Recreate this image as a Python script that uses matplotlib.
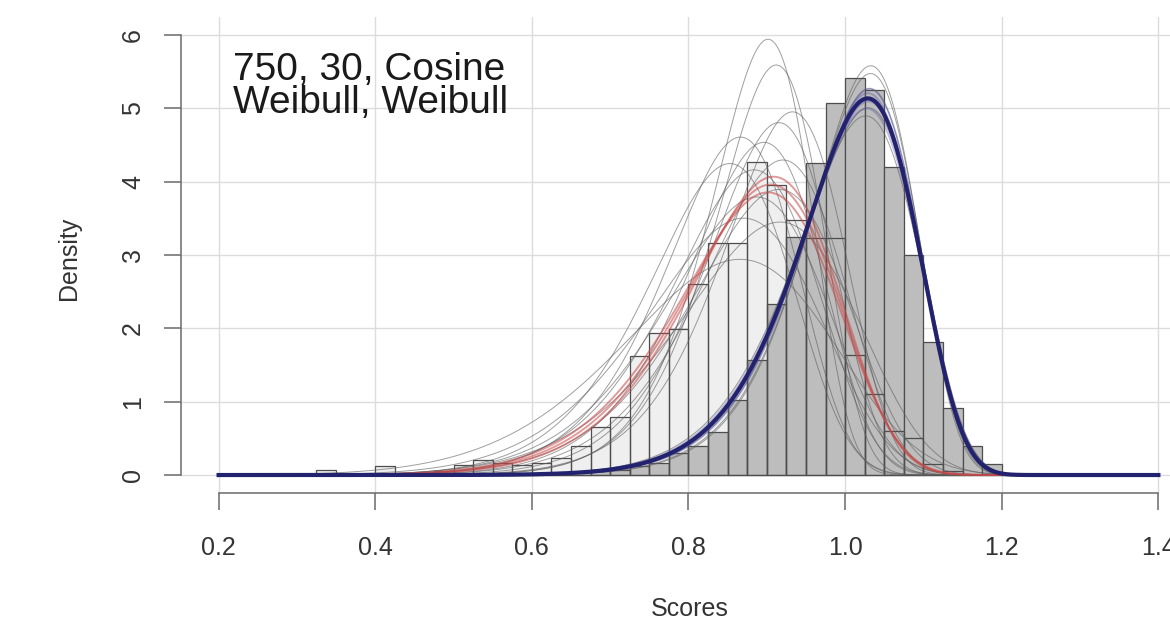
import numpy as np
import matplotlib
matplotlib.use("Agg")
import matplotlib.pyplot as plt

plt.rcParams["font.family"] = ["Liberation Sans", "DejaVu Sans"]

# ---------------- data ----------------
bin_start = 0.3
bin_width = 0.025
# light histogram (first sample)
light_heights = [0.0, 0.07, 0.0, 0.0, 0.12, 0.0, 0.02, 0.05, 0.13, 0.21,
                 0.16, 0.14, 0.16, 0.23, 0.39, 0.65, 0.79, 1.62, 1.94, 1.99,
                 2.61, 3.16, 3.16, 4.27, 3.95, 3.48, 3.23, 3.23, 1.64, 1.10,
                 0.60, 0.50, 0.15, 0.05, 0.0, 0.0, 0.0]
# dark histogram (second sample)
dark_heights = [0.0, 0.0, 0.0, 0.0, 0.0, 0.0, 0.0, 0.0, 0.0, 0.0,
                0.0, 0.0, 0.03, 0.03, 0.04, 0.05, 0.07, 0.12, 0.16, 0.30,
                0.39, 0.59, 1.02, 1.57, 2.33, 3.25, 4.25, 5.07, 5.41, 5.25,
                4.20, 3.00, 1.82, 0.92, 0.40, 0.15, 0.0]

# fitted Weibull densities (shape, scale)
gray_shape = [14.6, 13.9, 12.6, 12.0, 10.9, 11.1, 9.9, 10.8, 10.05, 9.75,
              9.2, 8.35, 8.66, 7.0, 15.7, 15.4, 14.05, 13.7, 14.8]
gray_scale = [0.906, 0.917, 0.939, 0.922, 0.874, 0.904, 0.862, 0.929, 0.893, 0.926,
              0.898, 0.8835, 0.930, 0.885, 1.037, 1.037, 1.035, 1.032, 1.036]
red_shape = [9.8, 9.5, 10.1]
red_scale = [0.915, 0.912, 0.918]
blue_halo_shape = [14.0, 14.8, 14.3, 14.6]
blue_halo_scale = [1.033, 1.036, 1.035, 1.034]
blue_shape = 14.4
blue_scale = 1.034

label_text = "750, 30, Cosine\nWeibull, Weibull"


def dweibull(x, k, lam):
    return (k / lam) * (x / lam) ** (k - 1) * np.exp(-(x / lam) ** k)


# ---------------- figure ----------------
fig = plt.figure(figsize=(11.7, 6.22), dpi=100)
ax = fig.add_axes([0.1547, 0.208, 0.8675, 0.764])
ax.set_xlim(0.152, 1.448)
ax.set_ylim(-0.24, 6.24)

# grid
for gx in [0.2, 0.4, 0.6, 0.8, 1.0, 1.2, 1.4]:
    ax.axvline(gx, color="#dcdcdc", lw=1.0, zorder=0)
for gy in range(0, 7):
    ax.axhline(gy, color="#dcdcdc", lw=1.0, zorder=0)

lefts = bin_start + bin_width * np.arange(len(light_heights))
ax.bar(lefts, light_heights, width=bin_width, align="edge",
       color="#efefef", edgecolor="none", zorder=1)
ax.bar(lefts, dark_heights, width=bin_width, align="edge",
       color="#bdbdbd", edgecolor="#4d4d4d", lw=0.9, zorder=2)
ax.bar(lefts, light_heights, width=bin_width, align="edge",
       color="none", edgecolor="#4d4d4d", lw=0.9, zorder=3)

xs = np.linspace(0.2, 1.4, 1200)
for k, lam in zip(gray_shape, gray_scale):
    ax.plot(xs, dweibull(xs, k, lam), color="#5e5e5e", lw=0.7, alpha=0.6, zorder=4)
for k, lam in zip(red_shape, red_scale):
    ax.plot(xs, dweibull(xs, k, lam), color="#c84848", lw=1.4, alpha=0.55, zorder=5)
for k, lam in zip(blue_halo_shape, blue_halo_scale):
    ax.plot(xs, dweibull(xs, k, lam), color="#5050a8", lw=1.5, alpha=0.35, zorder=6)
ax.plot(xs, dweibull(xs, blue_shape, blue_scale), color="#22226e", lw=3.0, zorder=7)

ax.text(0.219, 5.77, label_text, fontsize=28, color="#1a1a1a",
        va="top", ha="left", linespacing=0.9, zorder=8)

# R-style axes
for s in ["top", "right"]:
    ax.spines[s].set_visible(False)
ax.spines["left"].set_bounds(0, 6)
ax.spines["bottom"].set_bounds(0.2, 1.4)
for s in ["left", "bottom"]:
    ax.spines[s].set_color("#6a6a6a")
    ax.spines[s].set_linewidth(1.1)

ax.set_xticks([0.2, 0.4, 0.6, 0.8, 1.0, 1.2, 1.4])
ax.set_xticklabels(["0.2", "0.4", "0.6", "0.8", "1.0", "1.2", "1.4"])
ax.set_yticks(range(0, 7))
ax.set_yticklabels([str(v) for v in range(0, 7)], rotation=90, va="center")
ax.tick_params(axis="both", length=12, width=1.1, color="#6a6a6a",
               labelsize=18, labelcolor="#333333")
ax.tick_params(axis="x", pad=19)
ax.tick_params(axis="y", pad=14)

ax.set_xlabel("Scores", fontsize=18, color="#333333")
ax.set_ylabel("Density", fontsize=18, color="#333333")
ax.xaxis.set_label_coords((690 - 181) / (0.8675 * 1170), -(597 - 492.6) / (0.764 * 622))
ax.yaxis.set_label_coords(-(181 - 81) / (0.8675 * 1170), (492.6 - 258) / (0.764 * 622))

fig.savefig("out.png", dpi=100)
